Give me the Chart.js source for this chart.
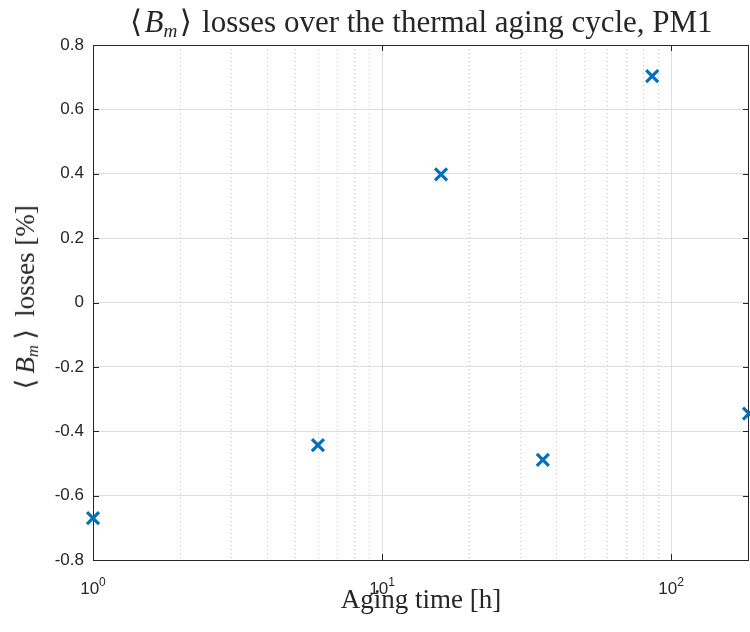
<!DOCTYPE html>
<html>
<head>
<meta charset="utf-8">
<script src="https://cdn.jsdelivr.net/npm/chart.js@4/dist/chart.umd.min.js"></script>
<style>
html,body{margin:0;padding:0;background:#fff;}
#wrap{position:relative;width:750px;height:632px;overflow:hidden;}
canvas{position:absolute;left:0;top:0;}
.lbl{position:absolute;font-family:"Liberation Serif","DejaVu Serif",serif;color:#262626;white-space:nowrap;line-height:1;}
#title{left:0;width:840px;top:6px;text-align:center;font-size:31px;}
#xlab{left:0;width:842px;top:586px;text-align:center;font-size:27px;}
#ylab{left:27px;top:300px;font-size:27px;transform:translate(-50%,-50%) rotate(-90deg);}
sub{font-size:0.62em;vertical-align:-0.25em;}
.br{padding:0 0.08em;}
#ylab .br{padding:0 0.2em;}
</style>
</head>
<body>
<div id="wrap">
<canvas id="c" width="750" height="632"></canvas>
<div class="lbl" id="title"><span class="br">⟨</span><i>B</i><sub><i>m</i></sub><span class="br">⟩</span> losses over the thermal aging cycle, PM1</div>
<div class="lbl" id="xlab">Aging time [h]</div>
<div class="lbl" id="ylab"><span class="br">⟨</span><i>B</i><sub><i>m</i></sub><span class="br">⟩</span> losses [%]</div>
</div>
<script>
const agingTime = [1, 6, 16, 36, 86, 186];
const losses = [-0.67, -0.443, 0.398, -0.489, 0.703, -0.345];
const xMin = 1, xMax = 186;
const yMin = -0.8, yMax = 0.8, yStep = 0.2;
const decadeTicks = [1, 10, 100];
const decadeExponents = ['0', '1', '2'];

const AX = '#262626';
const SANS = '"Liberation Sans", Arial, sans-serif';
const isDecade = v => Math.abs(Math.log10(v) - Math.round(Math.log10(v))) < 1e-9;

const gridPlugin = {
  id: 'matlabGrid',
  beforeDatasetsDraw(chart) {
    const {ctx, chartArea: a, scales: {x, y}} = chart;
    ctx.save();
    ctx.lineWidth = 1;
    ctx.strokeStyle = '#c4c4c4';
    ctx.setLineDash([1, 3]);
    for (let d = 1; d <= 100; d *= 10) {
      for (let k = 2; k <= 9; k++) {
        const v = k * d;
        if (v > xMax) continue;
        const px = Math.round(x.getPixelForValue(v)) + 0.5;
        ctx.beginPath(); ctx.moveTo(px, a.top); ctx.lineTo(px, a.bottom); ctx.stroke();
      }
    }
    ctx.setLineDash([]);
    ctx.strokeStyle = AX;
    ctx.strokeRect(Math.round(a.left) + 0.5, Math.round(a.top) + 0.5, Math.round(a.right - a.left) - 1, Math.round(a.bottom - a.top));
    ctx.beginPath();
    decadeTicks.forEach(v => {
      const px = Math.round(x.getPixelForValue(v)) + 0.5;
      ctx.moveTo(px, a.bottom); ctx.lineTo(px, a.bottom - 6);
      ctx.moveTo(px, a.top); ctx.lineTo(px, a.top + 6);
    });
    for (let i = 0; i <= Math.round((yMax - yMin) / yStep); i++) {
      const v = yMin + i * yStep;
      const py = Math.round(y.getPixelForValue(v)) + 0.5;
      ctx.moveTo(a.left, py); ctx.lineTo(a.left + 6, py);
      ctx.moveTo(a.right, py); ctx.lineTo(a.right - 6, py);
    }
    ctx.stroke();
    ctx.fillStyle = AX;
    ctx.textBaseline = 'alphabetic';
    ctx.textAlign = 'left';
    decadeTicks.forEach((v, i) => {
      const px = x.getPixelForValue(v);
      ctx.font = '17px ' + SANS;
      const wb = ctx.measureText('10').width;
      ctx.font = '12px ' + SANS;
      const we = ctx.measureText(decadeExponents[i]).width;
      const x0 = px - (wb + we) / 2;
      const base = a.bottom + 34;
      ctx.font = '17px ' + SANS;
      ctx.fillText('10', x0, base);
      ctx.font = '12px ' + SANS;
      ctx.fillText(decadeExponents[i], x0 + wb, base - 8);
    });
    ctx.restore();
  }
};

new Chart(document.getElementById('c'), {
  type: 'scatter',
  data: {
    datasets: [{
      data: agingTime.map((t, i) => ({x: t, y: losses[i]})),
      pointStyle: 'crossRot',
      pointRadius: 8.5,
      pointHoverRadius: 8.5,
      pointBorderWidth: 3.2,
      borderColor: '#0072BD',
      backgroundColor: '#0072BD',
      clip: false
    }]
  },
  options: {
    responsive: false,
    animation: false,
    events: [],
    layout: {autoPadding: false, padding: {left: 0, top: 45, right: 1, bottom: 0}},
    plugins: {legend: {display: false}, tooltip: {enabled: false}, title: {display: false}},
    scales: {
      x: {
        type: 'logarithmic',
        min: xMin, max: xMax,
        afterFit(s) { s.height = 72; s.paddingLeft = 0; s.paddingRight = 0; },
        grid: {
          drawTicks: false,
          color: c => (c.tick && isDecade(c.tick.value)) ? '#dedede' : 'rgba(0,0,0,0)',
          lineWidth: 1
        },
        border: {display: false},
        ticks: {display: false, autoSkip: false}
      },
      y: {
        min: yMin, max: yMax,
        afterFit(s) { s.width = 93; s.paddingTop = 0; s.paddingBottom = 0; },
        grid: {drawTicks: false, color: '#dedede', lineWidth: 1},
        border: {display: false},
        ticks: {
          stepSize: yStep,
          padding: 9,
          color: AX,
          font: {family: SANS, size: 17},
          callback: v => String(Number(v.toFixed(1)))
        }
      }
    }
  },
  plugins: [gridPlugin]
});
</script>
</body>
</html>
